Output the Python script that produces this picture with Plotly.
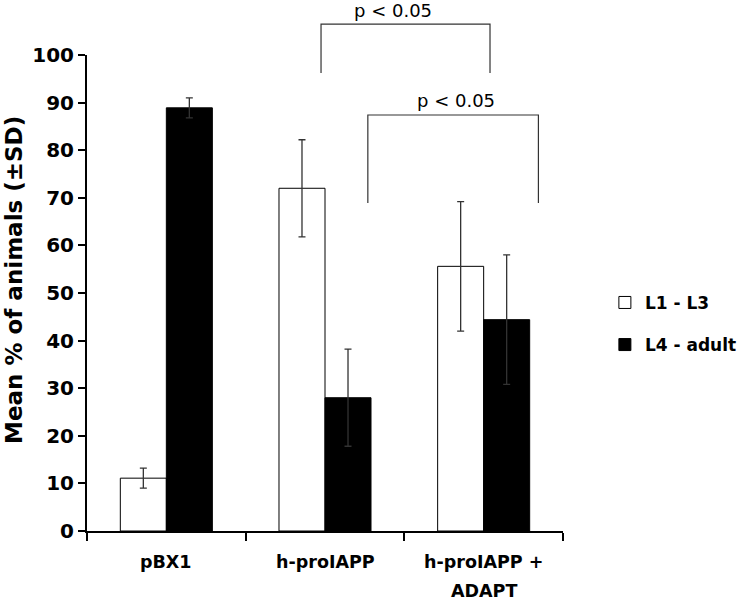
import plotly.graph_objects as go

categories = ["pBX1", "h-proIAPP", "h-proIAPP +<br>ADAPT"]
l1_l3 = [11.1, 72.0, 55.6]
l1_l3_sd = [2.1, 10.2, 13.6]
l4_adult = [88.9, 28.0, 44.4]
l4_adult_sd = [2.1, 10.2, 13.6]
y_ticks = [0, 10, 20, 30, 40, 50, 60, 70, 80, 90, 100]
p_label = "p < 0.05"

FONT = "DejaVu Sans"
err_style = dict(type="data", thickness=1.3, width=3.5, color="#333333")

fig = go.Figure()
fig.add_trace(go.Bar(
    x=categories, y=l1_l3, name="L1 - L3", legendgroup="a",
    marker=dict(color="white", line=dict(color="black", width=1)),
    error_y=dict(array=l1_l3_sd, **err_style),
))
fig.add_trace(go.Bar(
    x=categories, y=l4_adult, name="L4 - adult", legendgroup="b",
    marker=dict(color="black", line=dict(color="black", width=1)),
    error_y=dict(array=l4_adult_sd, **err_style),
))

# significance brackets: x in category units, y in paper units
brackets = [
    (0.975, 2.04, 1.065, 0.962, 1.426),
    (1.27, 2.345, 0.874, 0.689, 1.826),
]
for x0, x1, ytop, ybot, xt in brackets:
    fig.add_shape(type="path",
                  path=f"M {x0},{ybot} L {x0},{ytop} L {x1},{ytop} L {x1},{ybot}",
                  xref="x", yref="paper", line=dict(color="#333333", width=1.2))
    fig.add_annotation(x=xt, y=ytop, xref="x", yref="paper",
                       text=p_label, showarrow=False, yanchor="middle", yshift=14,
                       font=dict(family=FONT, size=18, color="black"))

# category labels (as annotations for exact line spacing)
for i, cat in enumerate(categories):
    for j, line in enumerate(cat.split("<br>")):
        fig.add_annotation(x=i, y=0, xref="x", yref="paper", text=line,
                           showarrow=False, yanchor="middle", yshift=-31 - 29 * j,
                           font=dict(family=FONT, size=17.5, color="black", weight="bold"))

# y axis title
fig.add_annotation(x=-0.155, y=0.528, xref="paper", yref="paper",
                   text="Mean % of animals (±SD)", textangle=-90, showarrow=False,
                   xanchor="center", yanchor="middle",
                   font=dict(family=FONT, size=23, color="black", weight="bold"))

fig.update_layout(
    width=750, height=600,
    margin=dict(l=87, r=187, t=55, b=69, autoexpand=False),
    plot_bgcolor="white", paper_bgcolor="white",
    barmode="group", bargap=0.42, bargroupgap=0,
    font=dict(family=FONT, color="black"),
    showlegend=True,
    hovermode=False,
    legend=dict(x=1.088, y=0.517, xanchor="left", yanchor="top",
                font=dict(family=FONT, size=17, color="black", weight="bold"),
                traceorder="grouped", tracegroupgap=17, itemwidth=30,
                bgcolor="rgba(0,0,0,0)"),
)
fig.update_xaxes(
    showline=True, linecolor="black", linewidth=2,
    ticks="outside", tickson="boundaries", ticklen=8, tickwidth=2, tickcolor="black",
    showticklabels=False,
    showgrid=False, zeroline=False,
)
fig.update_yaxes(
    range=[0, 100], tickvals=y_ticks, ticktext=[str(v) for v in y_ticks],
    showline=True, linecolor="black", linewidth=2,
    ticks="outside", ticklen=7, tickwidth=2, tickcolor="black",
    tickfont=dict(family=FONT, size=20, color="black", weight="bold"),
    showgrid=False, zeroline=False,
)

fig.write_html("out.html", config={"displayModeBar": False},
               post_script="document.body.style.margin='0';document.body.style.overflow='hidden';")
